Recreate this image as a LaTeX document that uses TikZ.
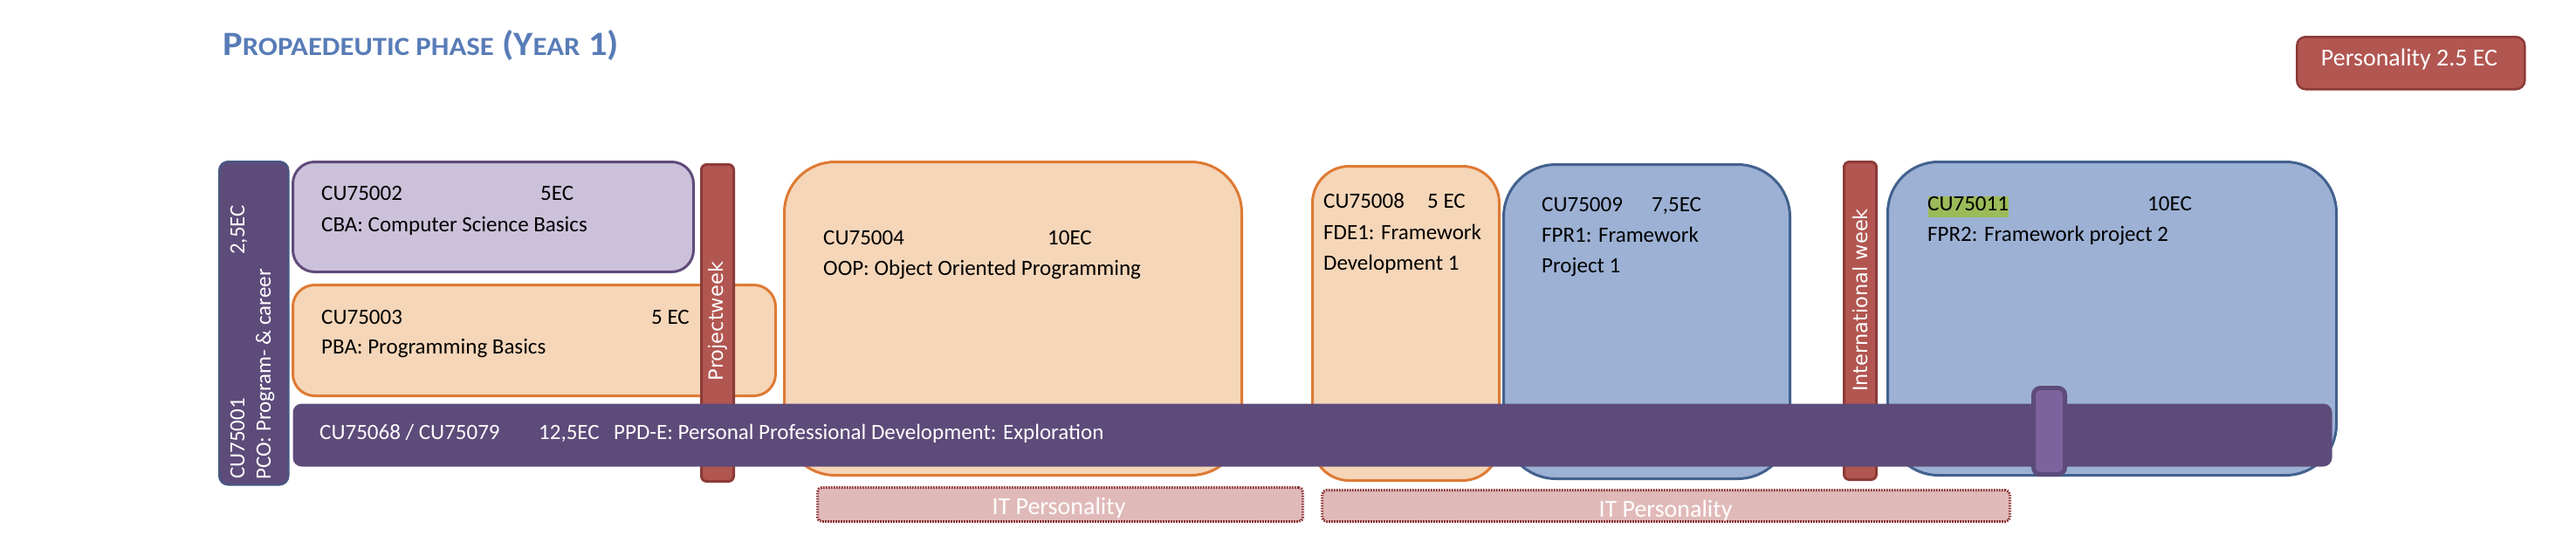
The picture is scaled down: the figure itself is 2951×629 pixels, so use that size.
\documentclass[tikz,border=0pt]{standalone}
\usepackage{fontspec}
\usepackage{graphicx}
\setmainfont{Carlito}
\newfontfamily\verd{DejaVu Sans}
\definecolor{dpurple}{RGB}{93,75,122}
\definecolor{pcoborder}{RGB}{72,86,130}
\definecolor{lpurple}{RGB}{204,193,218}
\definecolor{purpleborder}{RGB}{96,74,123}
\definecolor{peach}{RGB}{245,214,184}
\definecolor{orangeb}{RGB}{222,122,52}
\definecolor{lblue}{RGB}{156,177,212}
\definecolor{blueb}{RGB}{66,97,142}
\definecolor{redbar}{RGB}{178,86,81}
\definecolor{redb}{RGB}{140,59,55}
\definecolor{itfill}{RGB}{224,186,185}
\definecolor{itborder}{RGB}{140,52,52}
\definecolor{tabfill}{RGB}{124,99,158}
\definecolor{titleblue}{RGB}{88,124,183}
\definecolor{hlgreen}{RGB}{155,187,89}
\newcommand{\smcap}[1]{{\fontsize{30}{30}\selectfont #1}}
\tikzset{
  box/.style={inner sep=0pt, anchor=north west, line width=3pt},
  purplebox/.style={box, fill=lpurple, draw=purpleborder},
  peachbox/.style={box, fill=peach, draw=orangeb},
  bluebox/.style={box, fill=lblue, draw=blueb},
  redbox/.style={box, fill=redbar, draw=redb, rounded corners=6pt},
  itbox/.style={box, fill=itfill, draw=itborder, dash pattern=on 1.6pt off 1.4pt, rounded corners=5pt},
  txt/.style={inner sep=0pt, anchor=base west, font=\fontsize{25}{30}\selectfont},
  wtxt/.style={txt, text=white},
  rtxt/.style={wtxt, rotate=90},
  vtxt/.style={inner sep=0pt, rotate=90, text=white, font=\verd\fontsize{22.5}{27}\selectfont},
  ittxt/.style={inner sep=0pt, anchor=base, text=white, font=\fontsize{28}{30}\selectfont},
}
\begin{document}
\begin{tikzpicture}[x=1pt, y=-1pt]
\useasboundingbox (0,0) rectangle (2951,629);
% title
\node[inner sep=0pt, anchor=base west, text=titleblue, font=\bfseries\fontsize{39}{40}\selectfont] (title) at (255,63)
  {\scalebox{1.09}[1]{P\smcap{ROPAEDEUTIC PHASE} (Y\smcap{EAR} 1)}};
% personality
\node[box, fill=redbar, draw=redb, rounded corners=10pt, line width=2.5pt, minimum width=261pt, minimum height=60pt] (pers) at (2630,41) {};
\node[ittxt] (perst) at (2760,75) {Personality 2.5 EC};
% PCO bar
\node[box, fill=dpurple, draw=pcoborder, line width=2.5pt, rounded corners=10pt, minimum width=79pt, minimum height=370pt] (pco) at (250,184) {};
% course boxes
\node[purplebox, rounded corners=25pt, minimum width=459pt, minimum height=126pt] (cba) at (334,184) {};
\node[peachbox, rounded corners=25pt, minimum width=553pt, minimum height=127pt] (pba) at (334,325) {};
\node[redbox, minimum width=37pt, minimum height=363pt] (pw) at (802,187) {};
\node[peachbox, rounded corners=58pt, minimum width=524pt, minimum height=359pt] (oop) at (897,184) {};
\node[peachbox, rounded corners=42pt, minimum width=214pt, minimum height=360pt] (fde) at (1502,189) {};
\node[bluebox, rounded corners=60pt, minimum width=328pt, minimum height=360pt] (fpra) at (1721,187) {};
\node[redbox, minimum width=37pt, minimum height=364pt] (iw) at (2111,184) {};
\node[bluebox, rounded corners=58pt, minimum width=514pt, minimum height=359pt] (fprb) at (2161,184) {};
% PPD-E bar
\node[box, fill=dpurple, rounded corners=10pt, minimum width=2336pt, minimum height=72pt] (ppde) at (334,461) {};
\node[box, fill=tabfill, draw=dpurple, line width=5pt, rounded corners=8pt, minimum width=36pt, minimum height=99pt] (tab) at (2327,442) {};
% IT personality boxes
\node[itbox, minimum width=556pt, minimum height=39pt] (ita) at (935,557) {};
\node[itbox, minimum width=788pt, minimum height=36pt] (itb) at (1513,560) {};
\begin{scope}
  \clip (ita.north west) rectangle (ita.south east);
  \node[ittxt] (itat) at (1213,589) {IT Personality};
\end{scope}
\begin{scope}
  \clip (itb.north west) rectangle (itb.south east);
  \node[ittxt] (itbt) at (1908,592) {IT Personality};
\end{scope}
% texts
\node[rtxt] (pco1) at (280,549) {CU75001};
\node[rtxt] (pco2) at (280,292) {2,5EC};
\node[rtxt] (pco3) at (310,550) {PCO: Program- \& career};
\node[txt] (cba1) at (368,229) {CU75002};
\node[txt] (cba2) at (619,229) {5EC};
\node[txt] (cba3) at (368,265) {CBA: Computer Science Basics};
\node[txt] (pba1) at (368,371) {CU75003};
\node[txt] (pba2) at (746,371) {5 EC};
\node[txt] (pba3) at (368,405) {PBA: Programming Basics};
\node[vtxt] (pwt) at (822,368) {Projectweek};
\node[txt] (oop1) at (943,280) {CU75004};
\node[txt] (oop2) at (1200,280) {10EC};
\node[txt] (oop3) at (943,315) {OOP: Object Oriented Programming};
\node[txt] (fde1) at (1516,238) {CU75008};
\node[txt] (fde2) at (1635,238) {5 EC};
\node[txt] (fde3) at (1516,274) {FDE1: Framework};
\node[txt] (fde4) at (1516,309) {Development 1};
\node[txt] (fpra1) at (1766,242) {CU75009};
\node[txt] (fpra2) at (1892,242) {7,5EC};
\node[txt] (fpra3) at (1766,277) {FPR1: Framework};
\node[txt] (fpra4) at (1766,312) {Project 1};
\node[vtxt] (iwt) at (2131,344) {International week};
\node[box, fill=hlgreen, minimum width=92pt, minimum height=24pt] (hl) at (2207,223) {};
\node[txt] (fprb1) at (2208,241) {CU75011};
\node[txt] (fprb2) at (2460,241) {10EC};
\node[txt] (fprb3) at (2208,276) {FPR2: Framework project 2};
\node[wtxt] (ppde1) at (366,503) {CU75068 / CU75079};
\node[wtxt] (ppde2) at (617,503) {12,5EC};
\node[wtxt] (ppde3) at (703,503) {PPD-E: Personal Professional Development: Exploration};
\end{tikzpicture}
\end{document}
